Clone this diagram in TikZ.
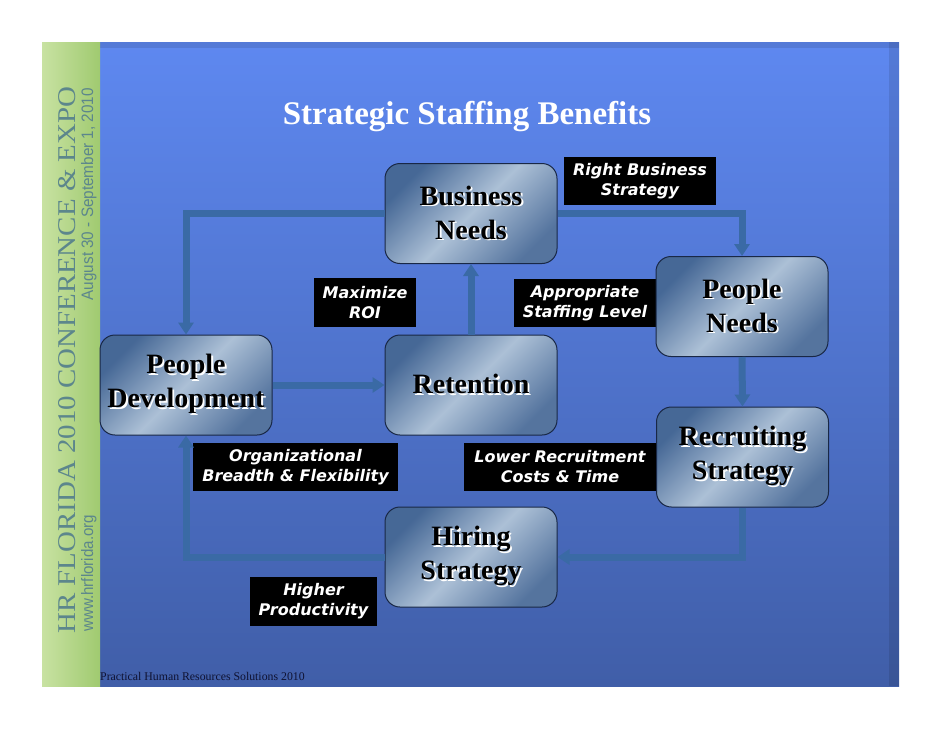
\documentclass[tikz,border=0pt]{standalone}
\usepackage{fontspec}
\setmainfont{Liberation Serif}
\newfontfamily\labfont{DejaVu Sans Bold Oblique}
\newfontfamily\stripsans{Liberation Sans}
\usetikzlibrary{arrows.meta}
\definecolor{bgtop}{RGB}{94,136,240}
\definecolor{bgbot}{RGB}{64,94,168}
\definecolor{grnl}{RGB}{200,226,162}
\definecolor{grnr}{RGB}{160,202,112}
\definecolor{striptxt}{RGB}{92,134,140}
\definecolor{connc}{RGB}{58,106,165}
\definecolor{boxdark}{RGB}{70,104,150}
\definecolor{boxlight}{RGB}{172,192,214}
\definecolor{boxline}{RGB}{25,40,70}
\definecolor{foot}{RGB}{15,18,50}
\newcommand\shd[1]{\rlap{\hspace{1.8pt}\raisebox{-1.8pt}{\color{white}#1}}#1}
\begin{document}
\begin{tikzpicture}[x=1pt,y=-1pt,
  stepbox/.style={draw=boxline, line width=1pt, rounded corners=15pt,
    minimum width=172pt, minimum height=100pt, inner sep=0pt,
    top color=boxdark, bottom color=boxdark!92!white, middle color=boxlight,
    shading angle=45, align=center, text=black,
    font=\bfseries\fontsize{28}{34}\selectfont},
  tagbox/.style={fill=black, text=white, inner sep=0pt, align=center,
    font=\labfont\fontsize{16}{20}\selectfont},
  connline/.style={draw=connc, line width=7pt, -{Triangle[width=15pt,length=12pt]}}]
\useasboundingbox (0,0) rectangle (942,728);
\fill[white] (0,0) rectangle (942,728);
% slide
\shade[top color=bgtop, bottom color=bgbot] (42,42) rectangle (899,686);
\fill[black, opacity=0.10] (889,42) rectangle (899,686);
\fill[black, opacity=0.10] (42,42) rectangle (899,48);
\shade[left color=grnl, right color=grnr] (42,42) rectangle (100,686);
% strip texts
\node[rotate=90, anchor=base west, text=striptxt, inner sep=0pt] (conf) at (75,634)
  {\resizebox{547pt}{17pt}{HR FLORIDA 2010 CONFERENCE \& EXPO}};
\node[rotate=90, anchor=base west, text=striptxt, inner sep=0pt, font=\stripsans] (web) at (93,632)
  {\resizebox{117pt}{12pt}{www.hrflorida.org}};
\node[rotate=90, anchor=base east, text=striptxt, inner sep=0pt, font=\stripsans] (dates) at (93,88)
  {\resizebox{212pt}{12pt}{August 30 - September 1, 2010}};
% title and footer
\node[anchor=base, text=white, font=\bfseries\fontsize{33}{40}\selectfont, inner sep=0pt] (title) at (467,124) {Strategic Staffing Benefits};
\node[anchor=base west, text=foot, font=\fontsize{11.8}{14}\selectfont, inner sep=0pt] (footer) at (100,680) {Practical Human Resources Solutions 2010};
% labels
\node[tagbox, minimum width=152pt, minimum height=48pt] (rbs) at (640,181) {Right Business\\Strategy};
\node[tagbox, minimum width=102pt, minimum height=49pt] (roi) at (365,302.5) {Maximize\\ROI};
\node[tagbox, minimum width=143pt, minimum height=48pt] (asl) at (585,303) {Appropriate\\Staffing Level};
\node[tagbox, minimum width=205pt, minimum height=48pt] (obf) at (295.5,467) {Organizational\\Breadth \& Flexibility};
\node[tagbox, minimum width=193pt, minimum height=48pt] (lrc) at (560,467) {Lower Recruitment\\Costs \& Time};
\node[tagbox, minimum width=127pt, minimum height=49pt] (hp) at (313.5,601.5) {Higher\\Productivity};
% boxes
\node[stepbox] (bn) at (471,213.5) {\shd{Business}\\\shd{Needs}};
\node[stepbox] (pn) at (742,306.5) {\shd{People}\\\shd{Needs}};
\node[stepbox] (pd) at (186,385) {\shd{People}\\\shd{Development}};
\node[stepbox] (ret) at (471,385) {\shd{Retention}};
\node[stepbox] (rs) at (742.5,457) {\shd{Recruiting}\\\shd{Strategy}};
\node[stepbox] (hs) at (471,557) {\shd{Hiring}\\\shd{Strategy}};
% connectors
\draw[connline] (bn.east) -| (pn.north);
\draw[connline] (bn.west) -| (pd.north);
\draw[connline] (ret.north) -- (bn.south);
\draw[connline] (pd.east) -- (ret.west);
\draw[connline] (pn.south) -- (rs.north);
\draw[connline] (rs.south) |- (hs.east);
\draw[connline] (hs.west) -| (pd.south);
\end{tikzpicture}
\end{document}
